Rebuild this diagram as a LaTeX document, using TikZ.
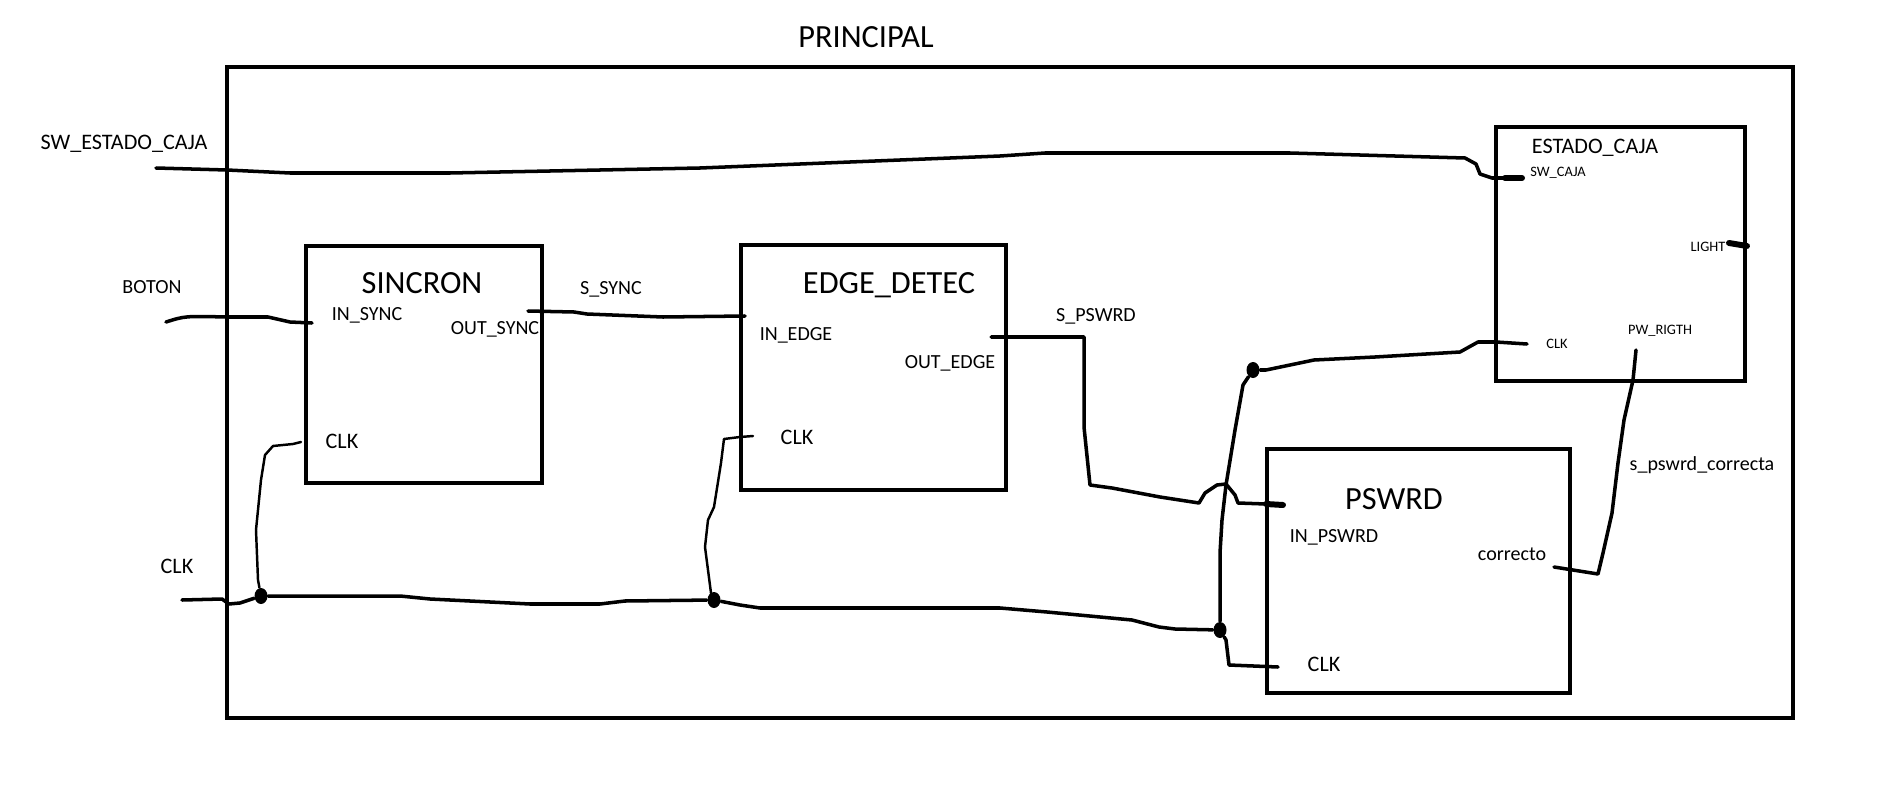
\documentclass[tikz,border=0pt]{standalone}
\usepackage{fontspec}
\setmainfont{Carlito}
\usetikzlibrary{shapes.geometric}

\begin{document}
\begin{tikzpicture}[
  x=1cm, y=1cm,
  box/.style   = {draw, line width=1.25pt, inner sep=0pt},
  wire/.style  = {line width=1pt, line join=round, line cap=round},
  twire/.style = {line width=0.7pt, line join=round, line cap=round},
  stub/.style  = {line width=1.7pt, line cap=round},
  dot/.style   = {ellipse, fill, inner sep=0pt, minimum width=1.3mm, minimum height=1.6mm},
  big/.style   = {font=\fontsize{9.2}{11}\selectfont, anchor=base, inner sep=0pt},
  mid/.style   = {font=\fontsize{6.3}{7.5}\selectfont, anchor=base, inner sep=0pt},
  lbl/.style   = {font=\fontsize{5.7}{7}\selectfont, anchor=base, inner sep=0pt},
  tiny/.style  = {font=\fontsize{4.1}{5}\selectfont, anchor=base, inner sep=0pt},
]
\useasboundingbox (0,0) rectangle (19.02,-8.11);

%% ── Outer block ─────────────────────────────────────────────────────────────
\node[box, minimum width=15.66cm, minimum height=6.51cm] (principal) at (10.10,-3.925) {};
\node[big] (principal-name) at (8.66,-0.48) {PRINCIPAL};

%% ── SINCRON ─────────────────────────────────────────────────────────────────
\node[box, minimum width=2.36cm, minimum height=2.37cm] (sincron) at (4.24,-3.645) {};
\node[big] (sincron-name) at (4.22,-2.93) {SINCRON};
\node[lbl] (in-sync) at (3.67,-3.20) {IN\_SYNC};
\node[lbl] (out-sync) at (4.95,-3.34) {OUT\_SYNC};
\node[mid] (sincron-clk-name) at (3.42,-4.48) {CLK};

%% ── EDGE_DETEC ──────────────────────────────────────────────────────────────
\node[box, minimum width=2.65cm, minimum height=2.45cm] (edgedetec) at (8.735,-3.675) {};
\node[big] (edgedetec-name) at (8.89,-2.93) {EDGE\_DETEC};
\node[lbl] (in-edge) at (7.96,-3.40) {IN\_EDGE};
\node[lbl] (out-edge) at (9.50,-3.68) {OUT\_EDGE};
\node[mid] (edge-clk-name) at (7.97,-4.44) {CLK};

%% ── ESTADO_CAJA ─────────────────────────────────────────────────────────────
\node[box, minimum width=2.49cm, minimum height=2.54cm] (estadocaja) at (16.205,-2.54) {};
\node[mid] (estadocaja-name) at (15.95,-1.53) {ESTADO\_CAJA};
\node[tiny] (sw-caja-name) at (15.58,-1.76) {SW\_CAJA};
\node[tiny] (light-name) at (17.08,-2.51) {LIGHT};
\node[tiny] (estado-clk-name) at (15.57,-3.48) {CLK};
\node[tiny] (pw-rigth-name) at (16.60,-3.34) {PW\_RIGTH};

%% ── PSWRD ───────────────────────────────────────────────────────────────────
\node[box, minimum width=3.03cm, minimum height=2.44cm] (pswrd) at (14.185,-5.71) {};
\node[big] (pswrd-name) at (13.94,-5.09) {PSWRD};
\node[lbl] (in-pswrd) at (13.34,-5.42) {IN\_PSWRD};
\node[lbl] (correcto) at (15.12,-5.60) {correcto};
\node[mid] (pswrd-clk-name) at (13.24,-6.71) {CLK};

%% ── Signal names ────────────────────────────────────────────────────────────
\node[mid] (sw-estado-caja) at (1.24,-1.49) {SW\_ESTADO\_CAJA};
\node[lbl] (boton) at (1.52,-2.93) {BOTON};
\node[mid] (clk) at (1.77,-5.73) {CLK};
\node[lbl] (s-sync) at (6.11,-2.94) {S\_SYNC};
\node[lbl] (s-pswrd) at (10.96,-3.21) {S\_PSWRD};
\node[lbl] (s-pswrd-correcta) at (17.02,-4.70) {s\_pswrd\_correcta};

%% ── Pins ────────────────────────────────────────────────────────────────────
\coordinate (sw-in) at (1.56,-1.68);
\coordinate (sw-caja) at (15.22,-1.78);
\coordinate (boton-in) at (1.66,-3.22);
\coordinate (in-sync-pin) at (3.12,-3.23);
\coordinate (out-sync-pin) at (5.28,-3.11);
\coordinate (in-edge-pin) at (7.45,-3.16);
\coordinate (out-edge-pin) at (9.91,-3.37);
\coordinate (in-pswrd-pin) at (12.83,-5.05);
\coordinate (clk-in) at (1.82,-6.00);
\coordinate (sincron-clk) at (3.01,-4.42);
\coordinate (edge-clk) at (7.53,-4.36);
\coordinate (pswrd-clk) at (12.78,-6.67);
\coordinate (estado-clk) at (15.27,-3.44);
\coordinate (correcto-pin) at (15.54,-5.67);
\coordinate (pw-rigth-pin) at (16.36,-3.50);
\coordinate (light-pin) at (17.29,-2.43);
\coordinate (light-out) at (17.47,-2.46);

%% ── Junctions ───────────────────────────────────────────────────────────────
\node[dot] (j1) at (2.61,-5.96) {};
\node[dot] (j2) at (7.14,-6.00) {};
\node[dot] (j3) at (12.20,-6.30) {};
\node[dot] (j4) at (12.53,-3.70) {};

%% ── Wires ───────────────────────────────────────────────────────────────────
\draw[wire] (sw-in) -- (2.27,-1.70) -- (2.90,-1.73) -- (4.50,-1.73) -- (7.00,-1.68)
  -- (10.00,-1.56) -- (10.45,-1.53) -- (12.90,-1.53) -- (14.65,-1.58)
  -- (14.76,-1.64) -- (14.80,-1.74) -- (14.92,-1.78) -- (sw-caja);
\draw[stub] (15.05,-1.78) -- (sw-caja);

\draw[wire] (boton-in) .. controls (1.85,-3.16) .. (2.26,-3.17) -- (2.68,-3.17)
  -- (2.90,-3.22) -- (in-sync-pin);

\draw[wire] (out-sync-pin) -- (5.74,-3.12) -- (5.87,-3.14) -- (6.63,-3.17) -- (in-edge-pin);

\draw[wire] (out-edge-pin) -- (10.84,-3.37) -- (10.84,-4.27) -- (10.90,-4.85)
  -- (11.12,-4.88) -- (11.60,-4.97) -- (11.99,-5.03) -- (12.05,-4.93)
  -- (12.17,-4.85) -- (12.26,-4.84) -- (12.35,-4.95) -- (12.38,-5.03)
  -- (12.66,-5.04) -- (in-pswrd-pin);
\draw[stub] (12.66,-5.04) -- (in-pswrd-pin);

%% clock bus
\draw[wire] (clk-in) -- (2.22,-5.99) -- (2.29,-6.04) -- (2.40,-6.03) -- (j1)
  -- (4.00,-5.96) -- (4.30,-5.99) -- (5.30,-6.04) -- (6.00,-6.04) -- (6.25,-6.01)
  -- (j2) -- (7.40,-6.05) -- (7.60,-6.08) -- (10.00,-6.08) -- (10.47,-6.12)
  -- (11.32,-6.20) -- (11.59,-6.27) -- (11.75,-6.29) -- (j3);
\draw[twire] (j1) -- (2.58,-5.80) -- (2.56,-5.30) -- (2.61,-4.80) -- (2.65,-4.55)
  -- (2.73,-4.46) -- (2.93,-4.44) -- (sincron-clk);
\draw[twire] (j2) -- (7.11,-5.93) -- (7.05,-5.47) -- (7.08,-5.20) -- (7.14,-5.07)
  -- (7.21,-4.63) -- (7.24,-4.39) -- (7.40,-4.37) -- (edge-clk);
\draw[wire] (j3) -- (12.26,-6.40) -- (12.29,-6.65) -- (pswrd-clk);
\draw[wire] (j3) -- (12.20,-5.53) -- (12.22,-5.20) -- (12.26,-4.85) -- (12.35,-4.30)
  -- (12.43,-3.85) -- (j4);
\draw[wire] (j4) -- (12.66,-3.70) -- (13.14,-3.60) -- (13.75,-3.57) -- (14.60,-3.52)
  -- (14.78,-3.42) -- (14.96,-3.42) -- (estado-clk);

\draw[wire] (correcto-pin) -- (15.98,-5.74) -- (16.03,-5.53) -- (16.12,-5.13)
  -- (16.18,-4.63) -- (16.24,-4.20) -- (16.33,-3.80) -- (pw-rigth-pin);
\draw[stub] (light-pin) -- (light-out);

\end{tikzpicture}
\end{document}
